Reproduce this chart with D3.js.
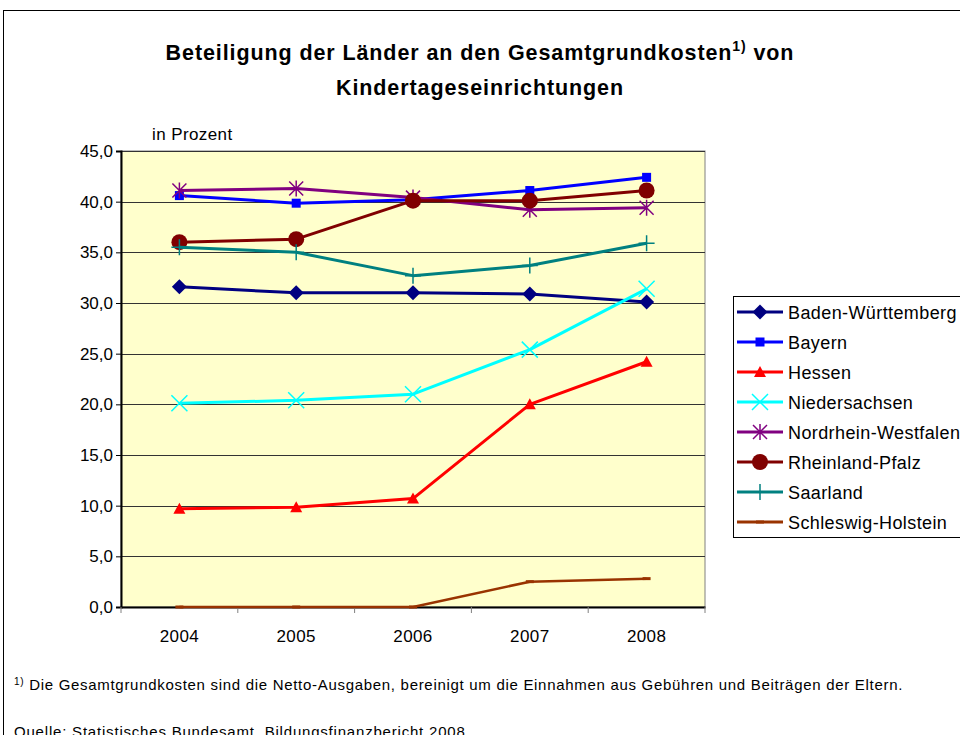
<!DOCTYPE html>
<html>
<head>
<meta charset="utf-8">
<script src="https://cdn.jsdelivr.net/npm/d3@7"></script>
<style>
  body { margin: 0; background: #fff; }
  svg { font-family: Arial, "Liberation Sans", sans-serif; }
</style>
</head>
<body>
<svg id="svg1" width="960" height="735"></svg>
<script>
// data
var years = ['2004', '2005', '2006', '2007', '2008'];
var yTicks = [0, 5, 10, 15, 20, 25, 30, 35, 40, 45];

var badenWuerttemberg = [31.6, 31.0, 31.0, 30.9, 30.1];
var bayern = [40.6, 39.85, 40.2, 41.1, 42.4];
var hessen = [9.7, 9.85, 10.7, 20.0, 24.2];
var niedersachsen = [20.1, 20.4, 21.0, 25.4, 31.4];
var nordrheinWestfalen = [41.1, 41.3, 40.4, 39.2, 39.4];
var rheinlandPfalz = [36.0, 36.3, 40.1, 40.1, 41.1];
var saarland = [35.5, 35.0, 32.7, 33.7, 35.9];
var schleswigHolstein = [0, 0, 0, 2.5, 2.8];

var seriesNames = ['Baden-Württemberg', 'Bayern', 'Hessen', 'Niedersachsen',
  'Nordrhein-Westfalen', 'Rheinland-Pfalz', 'Saarland', 'Schleswig-Holstein'];
var seriesColors = ['#000080', '#0000FF', '#FF0000', '#00FFFF', '#800080', '#800000', '#008080', '#993300'];
var seriesMarkers = ['diamond', 'square', 'triangle', 'x', 'asterisk', 'circle', 'plus', 'dash'];
var seriesValues = [badenWuerttemberg, bayern, hessen, niedersachsen,
  nordrheinWestfalen, rheinlandPfalz, saarland, schleswigHolstein];

var series = seriesNames.map(function(n, i) {
  return {name: n, color: seriesColors[i], marker: seriesMarkers[i], values: seriesValues[i]};
});

var svg = d3.select('#svg1');
var fontStack = 'Arial, "Liberation Sans", sans-serif';

// outer frame
svg.append('rect').attr('x', 3.5).attr('y', 10.5).attr('width', 970).attr('height', 740)
  .attr('fill', 'none').attr('stroke', '#000').attr('stroke-width', 1);

var plotLeft = 121, plotRight = 705, plotTop = 151, plotBottom = 607;

var x = d3.scaleBand().domain(years).range([plotLeft, plotRight]);
var y = d3.scaleLinear().domain([0, 45]).range([plotBottom, plotTop]);

// plot background
svg.append('rect').attr('x', plotLeft).attr('y', plotTop)
  .attr('width', plotRight - plotLeft).attr('height', plotBottom - plotTop)
  .attr('fill', '#FFFFCC').attr('stroke', '#808080').attr('stroke-width', 1);

// gridlines
svg.append('g').selectAll('line').data(yTicks.filter(function(t){ return t > 0; }))
  .enter().append('line')
  .attr('x1', plotLeft).attr('x2', plotRight)
  .attr('y1', function(d){ return Math.round(y(d)) + 0.5; })
  .attr('y2', function(d){ return Math.round(y(d)) + 0.5; })
  .attr('stroke', '#333').attr('stroke-width', 1);

// y axis
var yAxis = svg.append('g').attr('transform', 'translate(' + plotLeft + ',0)')
  .call(d3.axisLeft(y).tickValues(yTicks).tickSize(5).tickPadding(3)
    .tickFormat(function(d){ return d3.format('.1f')(d).replace('.', ','); }));
yAxis.select('.domain').attr('stroke', '#000').attr('stroke-width', 2);
yAxis.selectAll('.tick line').attr('stroke', '#000');
yAxis.selectAll('text').attr('font-size', 17).attr('fill', '#000')
  .style('font-family', fontStack);

// x axis
var xAxis = svg.append('g').attr('transform', 'translate(0,' + plotBottom + ')')
  .call(d3.axisBottom(x).tickSize(0));
xAxis.select('.domain').attr('stroke', '#000').attr('stroke-width', 2);
xAxis.selectAll('text').attr('font-size', 17).attr('fill', '#000')
  .attr('dy', null).attr('y', 35).style('letter-spacing', '0.4px')
  .style('font-family', fontStack);
// tick marks between categories
svg.append('g').selectAll('line').data(years.concat(['end']))
  .enter().append('line')
  .attr('x1', function(d, i){ return plotLeft + i * x.bandwidth(); })
  .attr('x2', function(d, i){ return plotLeft + i * x.bandwidth(); })
  .attr('y1', plotBottom).attr('y2', plotBottom + 6)
  .attr('stroke', '#808080').attr('stroke-width', 1);

// markers
function drawMarker(g, type, color) {
  if (type === 'diamond') {
    g.append('path').attr('d', 'M0,-7.5L7.5,0L0,7.5L-7.5,0Z').attr('fill', color);
  } else if (type === 'square') {
    g.append('rect').attr('x', -4.5).attr('y', -4.5).attr('width', 9).attr('height', 9).attr('fill', color);
  } else if (type === 'triangle') {
    g.append('path').attr('d', 'M0,-6L6,5L-6,5Z').attr('fill', color);
  } else if (type === 'x') {
    g.append('path').attr('d', 'M-8,-8L8,8M-8,8L8,-8').attr('stroke', color).attr('stroke-width', 1.5);
  } else if (type === 'asterisk') {
    g.append('path').attr('d', 'M-7,-7L7,7M-7,7L7,-7M0,-8L0,8').attr('stroke', color).attr('stroke-width', 1.5);
  } else if (type === 'circle') {
    g.append('circle').attr('r', 8).attr('fill', color);
  } else if (type === 'plus') {
    g.append('path').attr('d', 'M0,-8L0,8M-8,0L8,0').attr('stroke', color).attr('stroke-width', 1.5);
  } else if (type === 'dash') {
    g.append('path').attr('d', 'M-4,0L4,0').attr('stroke', color).attr('stroke-width', 3);
  }
}

var line = d3.line()
  .x(function(d, i){ return x(years[i]) + x.bandwidth() / 2; })
  .y(function(d){ return y(d); });

series.forEach(function(s) {
  svg.append('path').datum(s.values)
    .attr('d', line)
    .attr('fill', 'none')
    .attr('stroke', s.color)
    .attr('stroke-width', s.marker === 'dash' ? 2.5 : 3)
    .attr('stroke-linejoin', 'round');
  s.values.forEach(function(v, i) {
    var g = svg.append('g').attr('transform',
      'translate(' + (x(years[i]) + x.bandwidth() / 2) + ',' + y(v) + ')');
    drawMarker(g, s.marker, s.color);
  });
});

// legend
var legend = svg.append('g');
legend.append('rect').attr('x', 733.5).attr('y', 296.5).attr('width', 240).attr('height', 241)
  .attr('fill', '#fff').attr('stroke', '#000').attr('stroke-width', 1);
series.forEach(function(s, i) {
  var ly = 312 + i * 30;
  legend.append('line').attr('x1', 737).attr('x2', 783).attr('y1', ly).attr('y2', ly)
    .attr('stroke', s.color).attr('stroke-width', 3);
  var g = legend.append('g').attr('transform', 'translate(760,' + ly + ')');
  drawMarker(g, s.marker, s.color);
  legend.append('text').attr('x', 788).attr('y', ly + 6.5)
    .attr('font-size', 18).style('letter-spacing', '0.4px').attr('fill', '#000').text(s.name);
});

// titles
var title = svg.append('text').attr('x', 480).attr('y', 60)
  .attr('text-anchor', 'middle').attr('font-size', 21.5).attr('font-weight', 'bold')
  .style('letter-spacing', '0.9px');
title.append('tspan').text('Beteiligung der Länder an den Gesamtgrundkosten');
title.append('tspan').attr('font-size', 14).attr('dy', -9).text('1)');
title.append('tspan').attr('dy', 9).text(' von');
svg.append('text').attr('x', 480).attr('y', 95)
  .attr('text-anchor', 'middle').attr('font-size', 21.5).attr('font-weight', 'bold')
  .style('letter-spacing', '0.9px')
  .text('Kindertageseinrichtungen');

svg.append('text').attr('x', 152).attr('y', 140).attr('font-size', 17)
  .style('letter-spacing', '0.4px').text('in Prozent');

// footnotes
var foot = svg.append('text').attr('x', 14).attr('y', 690).attr('font-size', 15)
  .style('letter-spacing', '0.7px');
foot.append('tspan').attr('font-size', 10).attr('dy', -5).text('1)');
foot.append('tspan').attr('dy', 5).text(' Die Gesamtgrundkosten sind die Netto-Ausgaben, bereinigt um die Einnahmen aus Gebühren und Beiträgen der Eltern.');
svg.append('text').attr('x', 14).attr('y', 737).attr('font-size', 15)
  .style('letter-spacing', '0.8px')
  .text('Quelle: Statistisches Bundesamt, Bildungsfinanzbericht 2008');
</script>
</body>
</html>
